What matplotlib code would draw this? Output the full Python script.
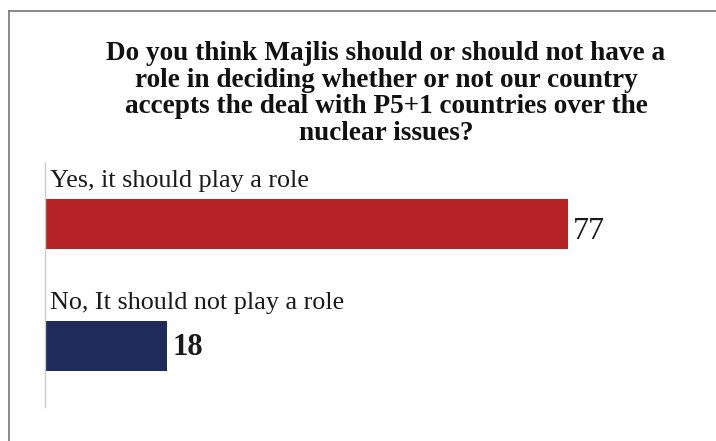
import matplotlib
matplotlib.use("Agg")
import matplotlib.pyplot as plt
from matplotlib.lines import Line2D

categories = ["Yes, it should play a role", "No, It should not play a role"]
values = [77, 18]
colors = ["#b52327", "#1f2b5a"]
title = ("Do you think Majlis should or should not have a\n"
         "role in deciding whether or not our country\n"
         "accepts the deal with P5+1 countries over the\n"
         "nuclear issues?")

W, H = 716, 441
fig = plt.figure(figsize=(W / 100, H / 100), dpi=100)
fig.patch.set_facecolor("white")

# frame lines (top and left)
fig.add_artist(Line2D([9 / W, 1], [1 - 11 / H, 1 - 11 / H], transform=fig.transFigure,
                      color="#777777", lw=1.2))
fig.add_artist(Line2D([9 / W, 9 / W], [0, 1 - 11 / H], transform=fig.transFigure,
                      color="#777777", lw=1.2))

fig.text(386 / W, 1 - 41 / H, title, ha="center", va="top",
         family="Liberation Serif", weight="bold", fontsize=19.6,
         linespacing=1.08, color="#111111")

ax_left, ax_top, ax_bottom = 45, 163, 407
ax = fig.add_axes([ax_left / W, 1 - ax_bottom / H, (W - ax_left) / W, (ax_bottom - ax_top) / H])
ax.set_xlim(0, (W - ax_left) / 6.79)
n = len(categories)
ax.set_ylim(n, 0)
ys = [i + 0.5 for i in range(n)]
ax.barh(ys, values, height=0.41, color=colors, edgecolor="none")
for y, cat, v, i in zip(ys, categories, values, range(n)):
    ax.text(0.7, y - 0.265, cat, ha="left", va="bottom", family="Liberation Serif",
            fontsize=18.8, color="#1a1a1a")
    ax.text(v + 0.8, y + 0.06 if i == 0 else y + 0.01, str(v), ha="left", va="center",
            family="Liberation Serif", fontsize=23 if i == 0 else 22,
            weight="bold" if i == 1 else "normal", color="#1a1a1a")

for s in ["top", "right", "bottom"]:
    ax.spines[s].set_visible(False)
ax.spines["left"].set_color("#cccccc")
ax.spines["left"].set_linewidth(1)
ax.set_xticks([])
ax.set_yticks([])
ax.patch.set_alpha(0)

fig.savefig("out.png", dpi=100, facecolor="white")
